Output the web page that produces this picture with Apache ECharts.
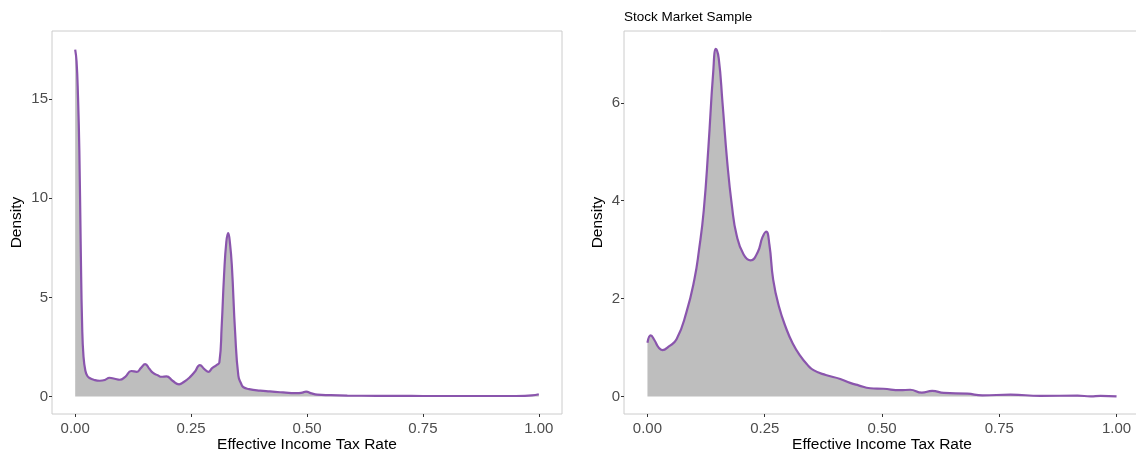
<!DOCTYPE html>
<html>
<head>
<meta charset="utf-8">
<script src="https://cdn.jsdelivr.net/npm/echarts@6/dist/echarts.min.js"></script>
<style>
html,body{margin:0;padding:0;background:#fff;}
#chart{width:1136px;height:452px;}
</style>
</head>
<body>
<div id="chart"></div>
<script>
// ---- data ----
const leftX = [0, 0.003, 0.006, 0.009, 0.012, 0.015, 0.018, 0.022, 0.026, 0.031, 0.04, 0.053, 0.064, 0.074, 0.085, 0.096, 0.108, 0.121, 0.133, 0.142, 0.151, 0.16, 0.168, 0.178, 0.186, 0.197, 0.21, 0.224, 0.235, 0.247, 0.258, 0.269, 0.278, 0.287, 0.296, 0.305, 0.311, 0.316, 0.321, 0.326, 0.330, 0.334, 0.338, 0.345, 0.352, 0.358, 0.363, 0.375, 0.399, 0.42, 0.442, 0.46, 0.478, 0.49, 0.498, 0.51, 0.522, 0.55, 0.587, 0.65, 0.7, 0.75, 0.8, 0.85, 0.9, 0.95, 0.97, 0.985, 1.0];
const leftDensity = [17.5, 16.9, 15.2, 12.4, 7.5, 3.6, 2.0, 1.3, 1.05, 0.94, 0.85, 0.80, 0.84, 0.95, 0.9, 0.85, 1.0, 1.29, 1.25, 1.45, 1.64, 1.4, 1.19, 1.08, 1.0, 1.02, 0.8, 0.62, 0.75, 0.97, 1.25, 1.59, 1.4, 1.25, 1.45, 1.59, 1.73, 3.56, 6.07, 7.8, 8.25, 7.7, 6.57, 3.23, 1.05, 0.65, 0.47, 0.38, 0.30, 0.26, 0.22, 0.19, 0.17, 0.2, 0.25, 0.16, 0.10, 0.07, 0.05, 0.04, 0.035, 0.03, 0.03, 0.03, 0.03, 0.03, 0.035, 0.06, 0.12];

const rightX = [0, 0.007, 0.015, 0.024, 0.032, 0.045, 0.062, 0.083, 0.1, 0.11, 0.12, 0.13, 0.14, 0.146, 0.152, 0.16, 0.17, 0.18, 0.19, 0.205, 0.22, 0.235, 0.245, 0.253, 0.26, 0.268, 0.28, 0.297, 0.31, 0.325, 0.34, 0.354, 0.38, 0.411, 0.432, 0.45, 0.475, 0.503, 0.539, 0.56, 0.585, 0.607, 0.632, 0.682, 0.714, 0.774, 0.838, 0.917, 0.945, 0.966, 1.0];
const rightDensity = [1.1, 1.25, 1.15, 1.0, 0.95, 1.02, 1.17, 1.72, 2.39, 3.0, 3.8, 5.1, 6.6, 7.1, 6.9, 6.0, 4.8, 3.9, 3.3, 2.9, 2.78, 2.95, 3.25, 3.37, 3.1, 2.39, 1.85, 1.36, 1.08, 0.84, 0.66, 0.54, 0.44, 0.36, 0.28, 0.23, 0.17, 0.16, 0.13, 0.14, 0.08, 0.115, 0.075, 0.06, 0.025, 0.04, 0.015, 0.02, 0.005, 0.015, 0.005];

const xTicks = [0, 0.25, 0.5, 0.75, 1.0];
const leftYTicks = [0, 5, 10, 15];
const rightYTicks = [0, 2, 4, 6];

const xTitle = 'Effective Income Tax Rate';
const yTitle = 'Density';
const rightTitle = 'Stock Market Sample';

// ---- chart ----
const chart = echarts.init(document.getElementById('chart'), null, {renderer: 'canvas'});
const FONT = 'Liberation Sans, Arial, sans-serif';
const lineColor = '#8a55ad';
const fillColor = '#bebebe';

function pairs(xs, ys) { return xs.map((x, i) => [x, ys[i]]); }

function xAxis(gi) {
  return {
    type: 'value', gridIndex: gi, min: -0.05, max: 1.05,
    name: xTitle, nameLocation: 'middle', nameGap: 23, nameMoveOverlap: false,
    nameTextStyle: {color: '#000', fontSize: 15.5, fontFamily: FONT},
    axisLine: {show: false, onZero: false},
    axisTick: {show: true, length: 3, lineStyle: {color: '#333', width: 1}, customValues: xTicks},
    axisLabel: {color: '#4d4d4d', fontSize: 15, fontFamily: FONT, margin: 7,
      customValues: xTicks, formatter: v => v.toFixed(2)},
    splitLine: {show: false}
  };
}
function yAxis(gi, ymin, ymax, ticks, gap) {
  return {
    type: 'value', gridIndex: gi, min: ymin, max: ymax,
    name: yTitle, nameLocation: 'middle', nameGap: gap, nameRotate: 90,
    nameTextStyle: {color: '#000', fontSize: 15.5, fontFamily: FONT},
    axisLine: {show: false, onZero: false},
    axisTick: {show: true, length: 3, lineStyle: {color: '#333', width: 1}, customValues: ticks},
    axisLabel: {color: '#4d4d4d', fontSize: 15, fontFamily: FONT, margin: 4,
      customValues: ticks, formatter: v => String(v)},
    splitLine: {show: false}
  };
}
function series(xi, yi, xs, ys) {
  return {
    type: 'line', xAxisIndex: xi, yAxisIndex: yi,
    data: pairs(xs, ys), showSymbol: false, symbol: 'none',
    smooth: 0.5,
    lineStyle: {color: lineColor, width: 2.2},
    areaStyle: {color: fillColor, opacity: 1, origin: 0},
    itemStyle: {color: lineColor},
    silent: true, animation: false
  };
}

const lMax = 17.56, rMax = 7.11;
const option = {
  animation: false,
  backgroundColor: '#ffffff',
  title: {
    text: rightTitle, left: 624, top: 10, padding: 0,
    textStyle: {color: '#000', fontSize: 13.5, fontWeight: 'normal', fontFamily: FONT}
  },
  grid: [
    {left: 52, top: 31, width: 510, height: 383, show: true, borderColor: '#cccccc', borderWidth: 1, backgroundColor: '#fff', containLabel: false, outerBoundsMode: 'none'},
    {left: 624, top: 31, width: 516, height: 383, show: true, borderColor: '#cccccc', borderWidth: 1, backgroundColor: '#fff', containLabel: false, outerBoundsMode: 'none'}
  ],
  xAxis: [xAxis(0), xAxis(1)],
  yAxis: [
    yAxis(0, -0.05 * lMax, lMax * 1.05, leftYTicks, 27),
    yAxis(1, -0.05 * rMax, rMax * 1.05, rightYTicks, 18)
  ],
  series: [series(0, 0, leftX, leftDensity), series(1, 1, rightX, rightDensity)]
};
chart.setOption(option);
</script>
</body>
</html>
